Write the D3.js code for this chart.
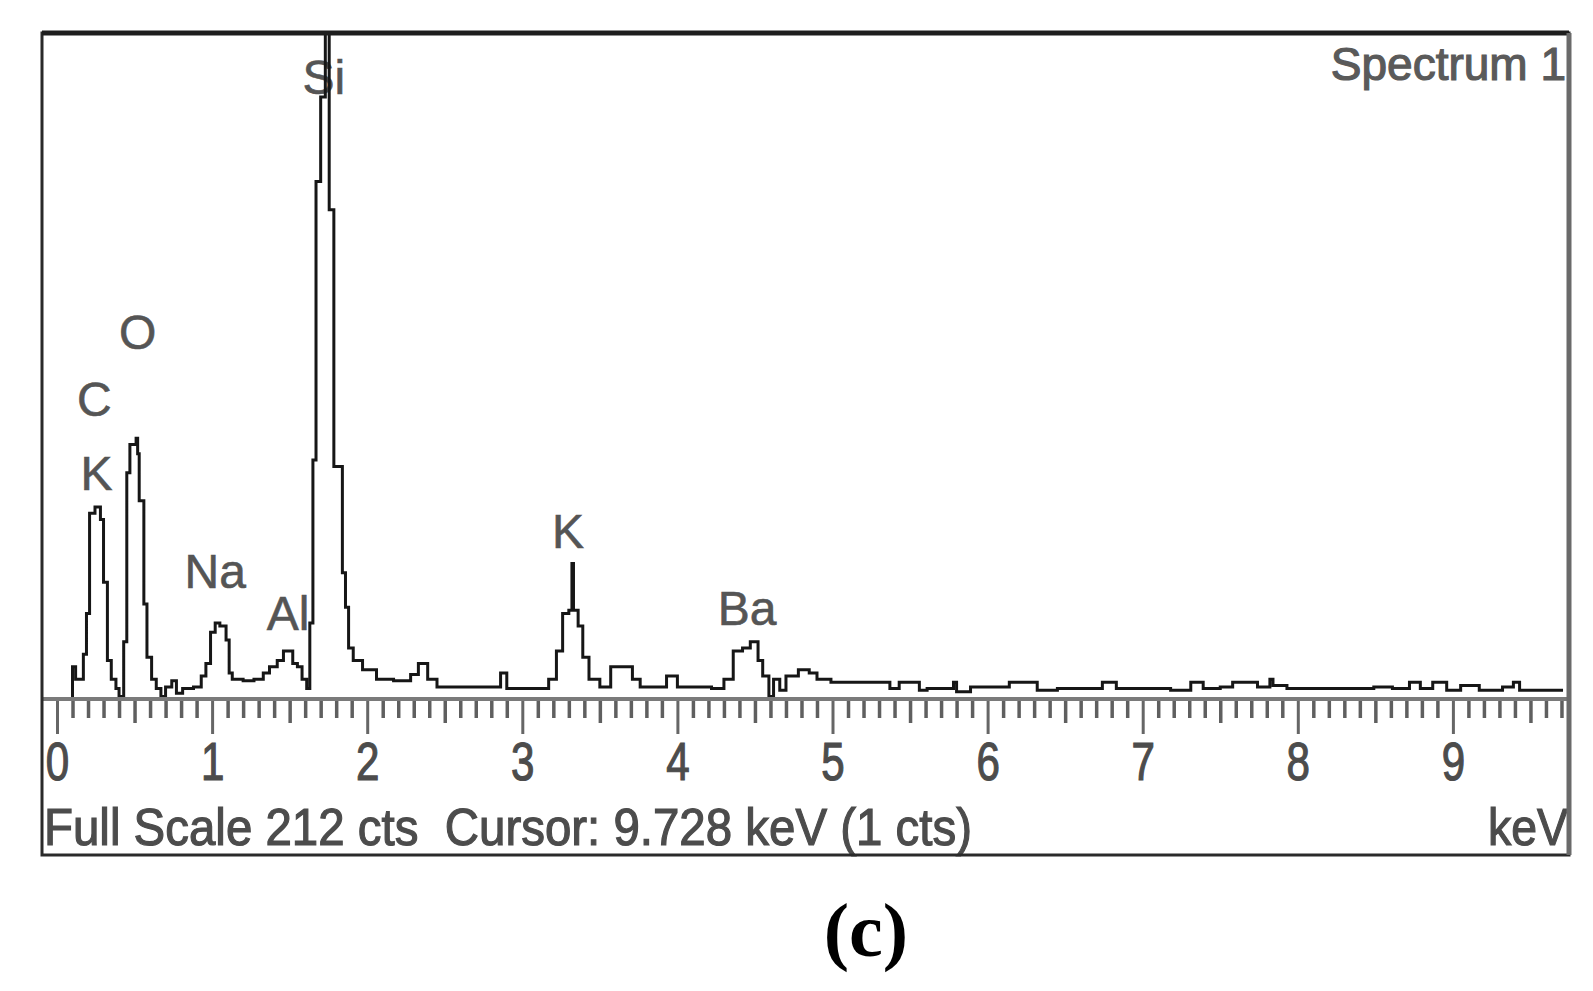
<!DOCTYPE html>
<html>
<head>
<meta charset="utf-8">
<script src="https://cdn.jsdelivr.net/npm/d3@7"></script>
<style>
  html, body { margin: 0; padding: 0; background: #ffffff; }
  svg { display: block; }
</style>
</head>
<body>
<script>
// ---- data ----
const energyKeV = [0.09,0.10,0.12,0.17,0.19,0.21,0.245,0.28,0.30,0.325,0.35,0.38,0.40,0.43,0.45,0.47,0.51,0.52,0.53,0.56,0.58,0.61,0.64,0.67,0.70,0.74,0.77,0.81,0.88,0.93,0.96,0.99,1.02,1.05,1.09,1.11,1.13,1.20,1.27,1.33,1.37,1.42,1.46,1.52,1.55,1.58,1.61,1.63,1.65,1.67,1.70,1.73,1.755,1.785,1.84,1.86,1.88,1.91,1.97,2.06,2.17,2.28,2.33,2.39,2.45,2.86,2.90,3.17,3.22,3.26,3.30,3.32,3.33,3.36,3.39,3.43,3.50,3.57,3.71,3.76,3.93,4.00,4.22,4.30,4.36,4.42,4.47,4.52,4.55,4.59,4.62,4.66,4.70,4.78,4.85,4.90,4.99,5.37,5.43,5.56,5.61,5.78,5.80,5.89,6.14,6.32,6.45,6.74,6.83,7.18,7.31,7.39,7.50,7.58,7.74,7.82,7.84,7.93,8.49,8.61,8.72,8.79,8.87,8.96,9.05,9.17,9.32,9.39,9.43,9.71];
const counts    = [0,10,6,14,27,59,61,57,37,12,6,3,0.5,18,72,81,83,78,63,30,13,6,3,0.5,3.5,5.5,1.5,3,3.5,7,11,21,24,23,18.5,8,6,5.5,6,8,10,12,15,11,10,6,3,24,76,165,192,300,156,74,40,29,16,12,9,6,5.5,7.5,11,6,3.5,8,3,6,15,27,28,43,28,23,13,6,3.5,10,6,3.5,7,3.5,3,6,15,16,18,12,7,0.5,6,2.5,7,9,8,6,5,3,5,2.5,3,5,2,3.5,5,2.5,3,5,3,2.5,5,3,3.5,5,3.5,6,4,3,3.5,3,5,3,5,2.5,4,2.5,3.5,5,2.5,2.5];

const peakLabels = ["Si","O","C","K","Na","Al","K","Ba"];
const peakLabelKeV = [1.72,0.52,0.24,0.255,1.02,1.49,3.295,4.45];
const peakLabelCts = [193,111.5,90,66.5,35,21.7,48,23.3];

const majorTicks = [0,1,2,3,4,5,6,7,8,9];
const tickLabels = ["0","1","2","3","4","5","6","7","8","9"];
const fullScaleCts = 212;
const xMaxKeV = 9.75;
const footerText = "Full Scale 212 cts  Cursor: 9.728 keV (1 cts)";
const unitText = "keV";
const titleText = "Spectrum 1";
const captionText = "(c)";

// ---- layout ----
const W = 1593, H = 991;
const frame = {x0: 42, y0: 33, x1: 1569, y1: 855};
const plotLeft = 57, plotRight = 57 + 155.1 * xMaxKeV;
const baseY = 698, topY = baseY - 3.13 * fullScaleCts;
const sans = "'Liberation Sans', Arial, sans-serif";

const svg = d3.select("body").append("svg").attr("width", W).attr("height", H);

const x = d3.scaleLinear().domain([0, xMaxKeV]).range([plotLeft, plotRight]);
const y = d3.scaleLinear().domain([0, fullScaleCts]).range([baseY, topY]);

svg.append("defs").append("clipPath").attr("id", "plotClip")
  .append("rect").attr("x", frame.x0 + 2).attr("y", frame.y0 + 2)
  .attr("width", frame.x1 - frame.x0 - 4).attr("height", baseY - frame.y0);

// peak labels
svg.append("g").selectAll("text").data(peakLabels).join("text")
  .attr("x", (d, i) => x(peakLabelKeV[i]))
  .attr("y", (d, i) => y(peakLabelCts[i]))
  .attr("text-anchor", "middle")
  .attr("font-family", sans)
  .attr("font-size", 48)
  .attr("fill", "#555")
  .attr("stroke", "#555").attr("stroke-width", 0.6)
  .text(d => d);

// title
svg.append("text")
  .attr("x", 1566).attr("y", 80)
  .attr("text-anchor", "end")
  .attr("font-family", sans)
  .attr("font-size", 46)
  .attr("fill", "#5a5a5a")
  .attr("stroke", "#5a5a5a").attr("stroke-width", 1.2)
  .text(titleText);

// spectrum line
const pts = energyKeV.map((e, i) => [e, counts[i]]);
const line = d3.line().x(d => x(d[0])).y(d => y(d[1])).curve(d3.curveStepAfter);
svg.append("path")
  .attr("clip-path", "url(#plotClip)")
  .attr("d", line(pts))
  .attr("fill", "none")
  .attr("stroke", "#161616")
  .attr("stroke-width", 3)
  .attr("stroke-linejoin", "miter");

// baseline
svg.append("line")
  .attr("x1", frame.x0).attr("x2", frame.x1)
  .attr("y1", baseY + 1).attr("y2", baseY + 1)
  .attr("stroke", "#7a7a7a").attr("stroke-width", 4);

// minor ticks
const minorTicks = d3.range(0, xMaxKeV, 0.1).filter(v => Math.abs(v - Math.round(v)) > 1e-6);
const minorAxis = d3.axisBottom(x).tickValues(minorTicks).tickSize(19).tickFormat("");
const gMinor = svg.append("g").attr("transform", `translate(0,${baseY + 3})`).call(minorAxis);
gMinor.select(".domain").remove();
gMinor.selectAll(".tick line")
  .attr("stroke", "#5f5f5f").attr("stroke-width", 3.5)
  .attr("y2", d => (Math.abs(d * 10 % 10 - 5) < 1e-6 ? 22 : 17));

// major ticks
const majorAxis = d3.axisBottom(x).tickValues(majorTicks).tickSize(33)
  .tickFormat((d, i) => tickLabels[i]);
const gMajor = svg.append("g").attr("transform", `translate(0,${baseY + 3})`).call(majorAxis);
gMajor.select(".domain").remove();
gMajor.selectAll(".tick line").attr("stroke", "#666").attr("stroke-width", 3);
gMajor.selectAll(".tick text")
  .attr("font-family", sans)
  .attr("font-size", 54)
  .attr("fill", "#4c4c4c")
  .attr("stroke", "#4c4c4c").attr("stroke-width", 1.2)
  .attr("y", 0).attr("dy", 0)
  .attr("transform", "translate(0,79) scale(0.78,1)");

// footer text
svg.append("text")
  .attr("x", 44).attr("y", 845)
  .attr("font-family", sans)
  .attr("font-size", 52)
  .attr("fill", "#4c4c4c")
  .attr("stroke", "#4c4c4c").attr("stroke-width", 1.2)
  .attr("textLength", 928)
  .attr("lengthAdjust", "spacingAndGlyphs")
  .style("white-space", "pre")
  .text(footerText);

svg.append("text")
  .attr("x", 1488).attr("y", 845)
  .attr("font-family", sans)
  .attr("font-size", 52)
  .attr("fill", "#4c4c4c")
  .attr("stroke", "#4c4c4c").attr("stroke-width", 1.2)
  .attr("textLength", 80)
  .attr("lengthAdjust", "spacingAndGlyphs")
  .text(unitText);

// frame
svg.append("rect")
  .attr("x", frame.x0).attr("y", frame.y0)
  .attr("width", frame.x1 - frame.x0).attr("height", frame.y1 - frame.y0)
  .attr("fill", "none").attr("stroke", "#2a2a2a").attr("stroke-width", 3);
svg.append("line")
  .attr("x1", frame.x0).attr("x2", frame.x1)
  .attr("y1", frame.y0).attr("y2", frame.y0)
  .attr("stroke", "#1e1e1e").attr("stroke-width", 5);
svg.append("line")
  .attr("x1", frame.x1).attr("x2", frame.x1)
  .attr("y1", frame.y0).attr("y2", frame.y1)
  .attr("stroke", "#6a6a6a").attr("stroke-width", 5);

// caption
svg.append("text")
  .attr("x", 866).attr("y", 956)
  .attr("text-anchor", "middle")
  .attr("font-family", "'Liberation Serif', 'Times New Roman', serif")
  .attr("font-weight", "bold")
  .attr("font-size", 76)
  .attr("fill", "#000")
  .text(captionText);
</script>
</body>
</html>
